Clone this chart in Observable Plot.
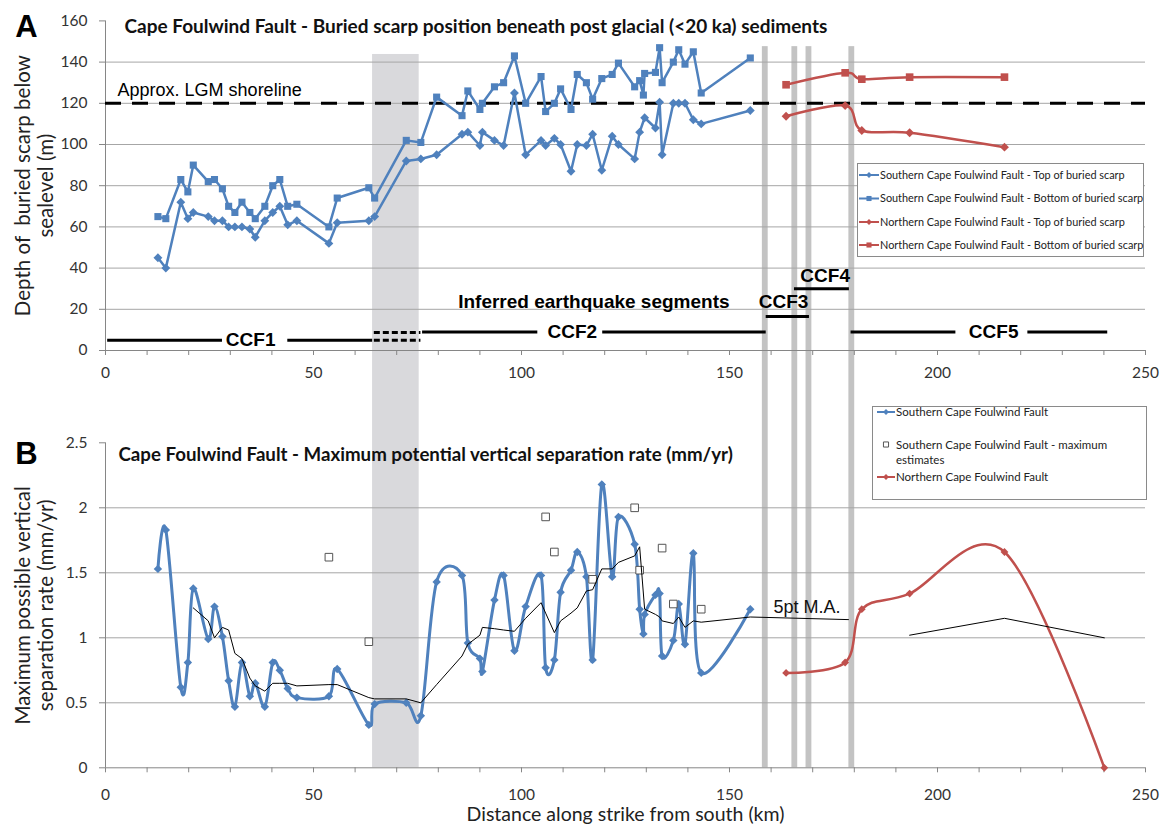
<!DOCTYPE html>
<html>
<head>
<meta charset="utf-8">
<script src="https://cdn.jsdelivr.net/npm/d3@7"></script>
<script src="https://cdn.jsdelivr.net/npm/@observablehq/plot@0.6"></script>
<style>
  body { margin: 0; background: #fff; }
  #wrap { position: relative; width: 1163px; height: 825px; overflow: hidden; background: #fff; }
  #wrap > svg { display: block; }
</style>
</head>
<body>
<div id="wrap"></div>
<script>
// ---------------- DATA ----------------
// Southern Cape Foulwind Fault sites (km along strike)
const sKm = [12.6,14.5,18.1,19.8,21.1,24.7,26.2,28.1,29.6,31.1,32.8,34.7,36.0,38.3,40.2,41.9,43.8,46.0,53.7,55.7,63.3,64.7,72.3,75.8,79.6,85.7,87.1,90.0,90.6,93.5,95.7,98.3,101.0,104.7,105.8,107.9,109.4,111.9,113.4,115.6,117.1,119.3,121.8,123.3,127.2,128.4,129.3,129.6,132.2,133.2,133.8,136.5,137.8,139.3,141.3,143.2,155.0];
// Depth of top of buried scarp (m)
const sTop = [45,40,72,64,67,65,63,63,60,60,60,59,55,63,67,70,61,63,52,62,63,65,92,93,95,105,106,99.5,106,102,99.5,125,95,102,99.5,103,100,87,100,99.5,105,87.5,104,100,93,106,null,113,108,120.5,95,120,120,120,112,110,116.5];
// Depth of bottom of buried scarp (m)
const sBottom = [65,64,83,77,90,82,83,78.5,70,67,72,67,64,70,80,83,70,71,60,74,79,74,102,101,123,114,126,117,120,128,130,143,120,133,116,120,127,117,134,130,122,132,134,139.5,128,131,124,134.5,135,147,130,140,146,139,145,125,142];
// Maximum potential vertical separation rate (mm/yr)
const sRate = [1.53,1.83,0.62,0.81,1.38,0.99,1.24,1.01,0.67,0.47,0.81,0.55,0.65,0.47,0.81,0.75,0.61,0.54,0.55,0.76,0.33,0.49,0.50,0.40,1.43,1.48,0.96,0.84,0.74,1.29,1.48,0.90,1.24,1.48,0.77,0.83,1.35,1.52,1.66,1.47,0.83,2.18,1.47,1.93,1.72,1.22,1.03,1.18,1.33,1.34,0.86,0.98,1.26,0.95,1.65,0.73,1.22];

// Southern - maximum estimates
const meKm = [53.7,63.3,105.8,107.9,117.1,127.2,128.4,133.8,136.5,143.2];
const meRate = [1.62,0.97,1.93,1.66,1.45,2.00,1.52,1.69,1.26,1.22];

// Northern Cape Foulwind Fault
const nKm = [163.6,177.8,181.8,193.3,216.1];
const nTop = [113.7,118.9,106.8,105.7,98.7];
const nBottom = [129,134.8,131.7,132.7,132.7];
const nRateKm = [163.6,177.8,181.8,193.3,216.1,240.1];
const nRate = [0.73,0.81,1.22,1.34,1.66,0.0];

// 5pt moving averages
const maSKm = [21.1,24.7,26.2,28.1,29.6,31.1,32.8,34.7,36.0,38.3,40.2,41.9,43.8,46.0,53.7,55.7,63.3,64.7,72.3,75.8,79.6,85.7,87.1,90.0,90.6,93.5,95.7,98.3,101.0,104.7,105.8,107.9,109.4,111.9,113.4,115.6,117.1,119.3,121.8,123.3,127.2,128.4,129.6,132.2,133.2,133.8,136.5,137.8,139.3,141.3,143.2,155.0,178.6];
const maSVal = [1.23,1.13,1.00,1.08,1.06,0.88,0.84,0.69,0.63,0.59,0.65,0.65,0.65,0.63,0.64,0.64,0.54,0.53,0.53,0.50,0.64,0.86,0.95,1.02,1.08,1.07,1.06,1.05,1.15,1.27,1.19,1.04,1.13,1.19,1.23,1.36,1.37,1.53,1.53,1.58,1.63,1.70,1.22,1.18,1.16,1.13,1.11,1.16,1.08,1.13,1.12,1.16,1.14];
const maNKm = [193.3,216.1,240.1];
const maNVal = [1.02,1.15,1.00];

// LGM shoreline depth (m)
const lgmDepth = [120];

// Inferred earthquake segments (km from, km to, depth level of bar)
const segFrom = [0.4,43.7,76.1,119.4,158.7,165.5,179.1,221.6];
const segTo   = [28.0,64.1,103.8,158.7,169.1,178.7,204.3,240.8];
const segLevel = [5,5,9,9,16.5,30,9,9];
const segDashFrom = [64.5,64.5];
const segDashTo = [75.7,75.7];
const segDashLevel = [5,8.7];
const segNames = ["CCF1","CCF2","CCF3","CCF4","CCF5"];
const segNameKm = [34.9,112.2,163.0,173.0,213.5];
const segNameLevel = [5,9,23.4,36.4,9];

// Shaded zones (km)
const bandFrom = [64.2];
const bandTo = [75.4];
const barFrom = [157.9,165.0,168.4,178.7];
const barTo = [159.3,166.4,169.8,180.1];

// Tick labels
const xTicks = [0,50,100,150,200,250];
const xMinorTicks = d3.range(0,251,10);
const yTicksTop = [0,20,40,60,80,100,120,140,160];
const yGridTop = [20,40,60,80,100,120,140];
const yTicksBot = [0,0.5,1,1.5,2,2.5];
const yGridBot = [0.5,1,1.5,2];

// ---------------- BUILD ----------------
const blue = "#4f81bd", red = "#c0504d";
const axisGray = "#868686", gridGray = "#a6a6a6";
const sans = "Lato, 'Open Sans', sans-serif";
const arial = "'Liberation Sans', Arial, sans-serif";
const smooth = d3.curveCardinal.tension(0);
const wrap = document.getElementById("wrap");

const southern = sKm.map((x,i)=>({x, top:sTop[i], bottom:sBottom[i], rate:sRate[i]}));
const sTopData = southern.filter(d=>d.top!=null);
const northern = nKm.map((x,i)=>({x, top:nTop[i], bottom:nBottom[i]}));
const nRateData = nRateKm.map((x,i)=>({x, rate:nRate[i]}));
const maxEst = meKm.map((x,i)=>({x, rate:meRate[i]}));
const maS = maSKm.map((x,i)=>({x, v:maSVal[i]}));
const maN = maNKm.map((x,i)=>({x, v:maNVal[i]}));
const bands = bandFrom.map((a,i)=>({a, b:bandTo[i]}));
const bars = barFrom.map((a,i)=>({a, b:barTo[i]}));
const segs = segFrom.map((a,i)=>({a, b:segTo[i], y:segLevel[i]}));
const dashSegs = segDashFrom.map((a,i)=>({a, b:segDashTo[i], y:segDashLevel[i]}));
const segLabels = segNames.map((t,i)=>({t, x:segNameKm[i], y:segNameLevel[i]}));

const xScale = {domain:[0,250], range:[105,1145]};
const titleOpts = {textAnchor:"start", lineAnchor:"middle", fontWeight:"bold", fill:"#111"};
const ylabOpts = {frameAnchor:"left", rotate:-90, textAnchor:"middle", lineAnchor:"middle", fontSize:20.5, fill:"#222"};

// ---------- Panel A ----------
const panelA = Plot.plot({
  width: 1163, height: 400,
  marginLeft: 105, marginRight: 18, marginTop: 20.4, marginBottom: 50,
  x: {...xScale, axis: null},
  y: {domain:[0,160], range:[350,20.4], axis: null},
  style: {fontFamily: sans, background: "#fff"},
  marks: [
    Plot.rect(bands, {x1:"a", x2:"b", y1:-30, y2:143.7, fill:"#d9d9dc"}),
    Plot.rect(bars, {x1:"a", x2:"b", y1:-30, y2:147.5, fill:"#c3c3c3"}),
    Plot.gridY(yGridTop, {stroke: gridGray, strokeOpacity: 1}),
    Plot.ruleX([0], {stroke: axisGray}),
    Plot.ruleY([0], {stroke: axisGray}),
    Plot.axisY({ticks: yTicksTop, tickSize: 6, tickPadding: 12, fontSize: 15.5, color: "#333", stroke: axisGray}),
    Plot.axisX({ticks: xMinorTicks, tickSize: 5, tickFormat: () => "", stroke: axisGray}),
    Plot.axisX({ticks: xTicks, tickSize: 0, tickPadding: 16, fontSize: 15.5, color: "#333"}),
    Plot.ruleY(lgmDepth, {stroke: "#000", strokeWidth: 3, strokeDasharray: "16,11"}),
    Plot.link(segs, {x1:"a", x2:"b", y1:"y", y2:"y", stroke:"#000", strokeWidth: 3}),
    Plot.link(dashSegs, {x1:"a", x2:"b", y1:"y", y2:"y", stroke:"#000", strokeWidth: 3, strokeDasharray:"6,3"}),
    Plot.text(segLabels, {x:"x", y:"y", text:"t", fontWeight:"bold", fontSize:19, fontFamily: arial, fill:"#000"}),
    Plot.text(["Inferred earthquake segments"], {x: 117.4, y: 23.4, fontWeight:"bold", fontSize:19, fontFamily: arial, fill:"#000"}),
    Plot.text(["Approx. LGM shoreline"], {x: 2.9, y: 126.2, textAnchor:"start", fontSize:18, fontFamily: arial, fill:"#000"}),
    // Southern
    Plot.line(sTopData, {x:"x", y:"top", stroke: blue, strokeWidth: 2.5}),
    Plot.line(southern, {x:"x", y:"bottom", stroke: blue, strokeWidth: 2.5}),
    Plot.dot(sTopData, {x:"x", y:"top", symbol:"diamond2", r:4, fill: blue}),
    Plot.dot(southern, {x:"x", y:"bottom", symbol:"square", r:4, fill: blue}),
    // Northern
    Plot.line(northern, {x:"x", y:"top", stroke: red, strokeWidth: 2.5, curve: smooth}),
    Plot.line(northern, {x:"x", y:"bottom", stroke: red, strokeWidth: 2.5, curve: smooth}),
    Plot.dot(northern, {x:"x", y:"top", symbol:"diamond2", r:4, fill: red}),
    Plot.dot(northern, {x:"x", y:"bottom", symbol:"square", r:4.3, fill: red}),
    // Titles
    Plot.text(["Cape Foulwind Fault - Buried scarp position beneath post glacial (<20 ka) sediments"],
      {...titleOpts, frameAnchor:"top-left", dx:19, dy:6.5, fontSize:19}),
    Plot.text(["A"], {frameAnchor:"top-left", textAnchor:"middle", lineAnchor:"middle", dx:-79, dy:6, fontWeight:"bold", fontSize:31, fontFamily: arial, fill:"#000"}),
    Plot.text(["Depth of  buried scarp below"], {...ylabOpts, dx:-82}),
    Plot.text(["sealevel (m)"], {...ylabOpts, dx:-59})
  ]
});
wrap.appendChild(panelA);

// ---------- Panel B ----------
const panelB = Plot.plot({
  width: 1163, height: 425,
  marginLeft: 105, marginRight: 18, marginTop: 42.3, marginBottom: 57.7,
  x: {...xScale, axis: null},
  y: {domain:[0,2.5], range:[367.3,42.3], axis: null},
  style: {fontFamily: sans, background: "#fff"},
  marks: [
    Plot.rect(bands, {x1:"a", x2:"b", y1:0, y2:3, fill:"#d9d9dc"}),
    Plot.rect(bars, {x1:"a", x2:"b", y1:0, y2:3, fill:"#c3c3c3"}),
    Plot.gridY(yGridBot, {stroke: gridGray, strokeOpacity: 1}),
    Plot.ruleX([0], {stroke: axisGray}),
    Plot.ruleY([0], {stroke: axisGray}),
    Plot.axisY({ticks: yTicksBot, tickSize: 6, tickPadding: 12, fontSize: 15.5, color: "#333", stroke: axisGray, tickFormat: d => String(d)}),
    Plot.axisX({ticks: xMinorTicks, tickSize: 5, tickFormat: () => "", stroke: axisGray}),
    Plot.axisX({ticks: xTicks, tickSize: 0, tickPadding: 21, fontSize: 15.5, color: "#333"}),
    // Southern rates
    Plot.line(southern, {x:"x", y:"rate", stroke: blue, strokeWidth: 3, curve: smooth}),
    Plot.dot(southern, {x:"x", y:"rate", symbol:"diamond2", r:3.8, fill: blue}),
    Plot.dot(maxEst, {x:"x", y:"rate", symbol:"square", r:4.3, fill:"#fff", stroke:"#555", strokeWidth: 1}),
    // Northern
    Plot.line(nRateData, {x:"x", y:"rate", stroke: red, strokeWidth: 2.5, curve: smooth}),
    Plot.dot(nRateData, {x:"x", y:"rate", symbol:"diamond2", r:3.5, fill: red}),
    // Moving averages
    Plot.line(maS, {x:"x", y:"v", stroke:"#000", strokeWidth: 1}),
    Plot.line(maN, {x:"x", y:"v", stroke:"#000", strokeWidth: 1}),
    Plot.text(["5pt M.A."], {x: 160.6, y: 1.235, textAnchor:"start", fontSize:18, fontFamily: arial, fill:"#111"}),
    // Titles
    Plot.text(["Cape Foulwind Fault - Maximum potential vertical separation rate (mm/yr)"],
      {...titleOpts, frameAnchor:"top-left", dx:13, dy:12.7, fontSize:18.7}),
    Plot.text(["B"], {frameAnchor:"top-left", textAnchor:"middle", lineAnchor:"middle", dx:-79, dy:11, fontWeight:"bold", fontSize:31, fontFamily: arial, fill:"#000"}),
    Plot.text(["Maximum possible vertical"], {...ylabOpts, dx:-82}),
    Plot.text(["separation rate (mm/yr)"], {...ylabOpts, dx:-59}),
    Plot.text(["Distance along strike from south (km)"], {frameAnchor:"bottom", lineAnchor:"middle", dy:46.5, fontSize:19.5, fill:"#222"})
  ]
});
wrap.appendChild(panelB);

// ---------- Legends ----------
function legend(left, top, w, h, items) {
  const svg = d3.create("svg").attr("width", w).attr("height", h)
    .style("position","absolute").style("left", left+"px").style("top", top+"px")
    .style("font-family", sans).style("overflow","hidden");
  svg.append("rect").attr("x",0.5).attr("y",0.5).attr("width",w-1).attr("height",h-1)
    .attr("fill","#fff").attr("stroke","#8a8a8a");
  for (const it of items) {
    if (it.line) svg.append("line").attr("x1", it.lx1).attr("x2", it.lx2).attr("y1", it.y).attr("y2", it.y)
      .attr("stroke", it.color).attr("stroke-width", 2);
    if (it.sym) {
      const isSq = it.sym === "square";
      const s = isSq ? d3.symbolSquare : d3.symbolDiamond2;
      svg.append("path").attr("d", d3.symbol(s, isSq ? 26 : 22)())
        .attr("transform", `translate(${it.mx},${it.y})`)
        .attr("fill", it.fill || it.color).attr("stroke", it.stroke || "none");
    }
    it.text.forEach((t, k) => {
      svg.append("text").attr("x", it.tx).attr("y", it.y + k*15).attr("dy","0.35em")
        .attr("font-size", it.fs).attr("fill","#222").text(t);
    });
  }
  wrap.appendChild(svg.node());
}
legend(857, 163, 287, 94, [
  {text:["Southern Cape Foulwind Fault - Top of buried scarp"], color: blue, line:true, lx1:2, lx2:22, sym:"diamond", mx:12, y:12, tx:23, fs:10.9},
  {text:["Southern Cape Foulwind Fault - Bottom of buried scarp"], color: blue, line:true, lx1:2, lx2:22, sym:"square", mx:12, y:35.5, tx:23, fs:10.9},
  {text:["Northern Cape Foulwind Fault - Top of buried scarp"], color: red, line:true, lx1:2, lx2:22, sym:"diamond", mx:12, y:59, tx:23, fs:10.9},
  {text:["Northern Cape Foulwind Fault - Bottom of buried scarp"], color: red, line:true, lx1:2, lx2:22, sym:"square", mx:12, y:82, tx:23, fs:10.9}
]);
legend(872, 406, 275, 94, [
  {text:["Southern Cape Foulwind Fault"], color: blue, line:true, lx1:5, lx2:23, sym:"diamond", mx:14, y:6, tx:24, fs:11.5},
  {text:["Southern Cape Foulwind Fault - maximum", "estimates"], color:"#555", fill:"#fff", stroke:"#555", sym:"square", mx:14, y:38.5, tx:24, fs:11.5},
  {text:["Northern Cape Foulwind Fault"], color: red, line:true, lx1:5, lx2:23, sym:"diamond", mx:14, y:71, tx:24, fs:11.5}
]);
</script>
</body>
</html>
